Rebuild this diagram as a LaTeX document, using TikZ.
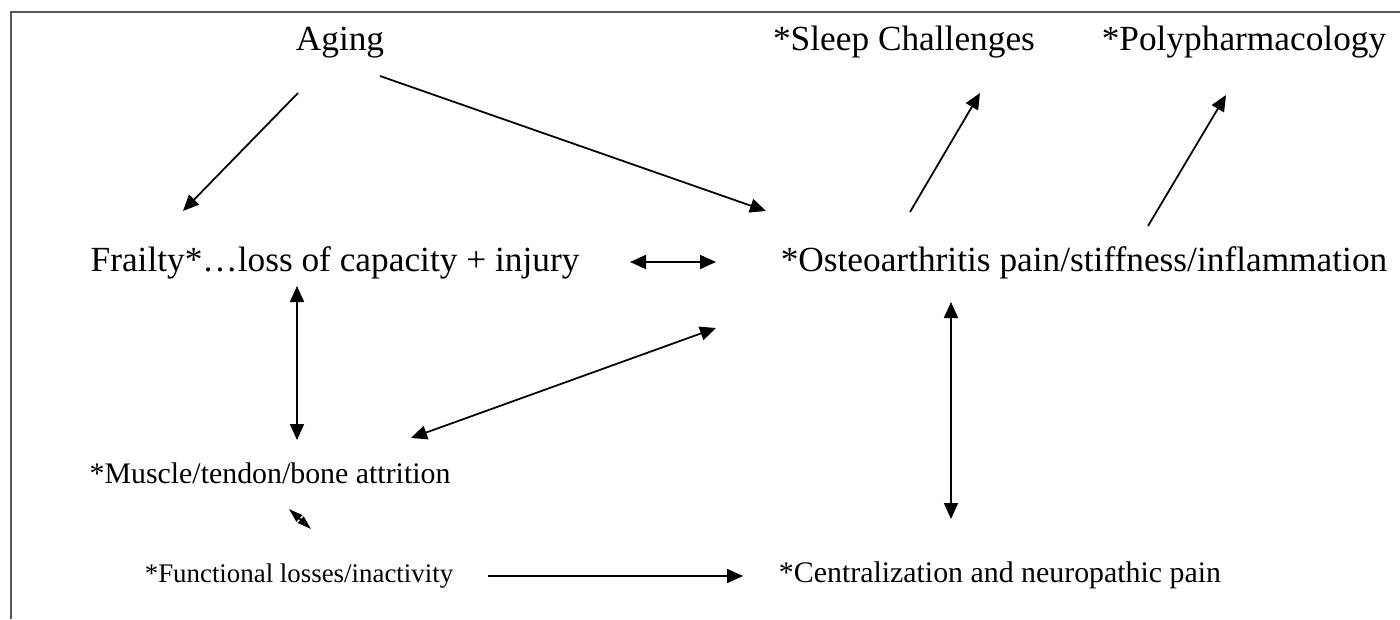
\documentclass[tikz,border=0pt]{standalone}
\usepackage{fontspec}
\setmainfont{Liberation Serif}
\usetikzlibrary{arrows.meta,positioning,calc}
\tikzset{
  big/.style={inner sep=0pt, anchor=base, font=\fontsize{20.1}{24}\selectfont},
  small/.style={inner sep=0pt, anchor=base, font=\fontsize{17}{20}\selectfont},
  arr/.style={-{Triangle[length=0.32cm,width=0.28cm]}, line width=1pt},
  darr/.style={{Triangle[length=0.32cm,width=0.28cm]}-{Triangle[length=0.32cm,width=0.28cm]},
               line width=1pt},
  tinyarr/.style={{Triangle[length=0.28cm,width=0.17cm]}-{Triangle[length=0.28cm,width=0.17cm]},
               line width=1pt},
  frame/.style={draw=black!65, line width=1.1pt}
}

\begin{document}
\begin{tikzpicture}[x=0.02cm, y=-0.02cm]
  \useasboundingbox (0,0) rectangle (1400,619);
  \draw[frame] (11,619) -- (11,12) -- (1400,12);

  % Top row
  \node[big] (aging) at (340,50)  {Aging};
  \node[big] (sleep) at (904,50)  {*Sleep Challenges};
  \node[big] (poly)  at (1244,50) {*Polypharmacology};

  % Middle row
  \node[big] (frailty) at (335,271)  {Frailty*…loss of capacity + injury};
  \node[big] (oa)      at (1084,271) {*Osteoarthritis pain/stiffness/inflammation};

  % Lower rows
  \node[small] (muscle)     at (270,483)  {*Muscle/tendon/bone attrition};
  \node[small, font=\fontsize{15.3}{18}\selectfont] (functional) at (299,582)
       {*Functional losses/inactivity};
  \node[small] (central)    at (1000,582) {*Centralization and neuropathic pain};

  % End points of the connectors
  \coordinate (agingA)  at (298,93);   \coordinate (frailtyT) at (183,211);
  \coordinate (agingB)  at (380,76);   \coordinate (oaT)      at (766,211);
  \coordinate (oaS)     at (910,212);  \coordinate (sleepB)   at (980,93);
  \coordinate (oaP)     at (1148,226); \coordinate (polyB)    at (1226,95);
  \coordinate (frailtyR) at (630,262); \coordinate (oaL)      at (716,262);
  \coordinate (frailtyB) at (297,286); \coordinate (muscleT)  at (297,440);
  \coordinate (oaM)     at (716,328);  \coordinate (muscleR)  at (411,438);
  \coordinate (oaB)     at (951,302);  \coordinate (centralT) at (951,519);
  \coordinate (functionalR) at (488,576); \coordinate (centralL) at (743,576);
  \coordinate (muscleB) at (289,509);  \coordinate (functionalT) at (311,529);

  \draw[arr]  (agingA) -- (frailtyT);
  \draw[arr]  (agingB) -- (oaT);
  \draw[arr]  (oaS) -- (sleepB);
  \draw[arr]  (oaP) -- (polyB);
  \draw[darr] (frailtyR) -- (oaL);
  \draw[darr] (frailtyB) -- (muscleT);
  \draw[darr] (oaM) -- (muscleR);
  \draw[darr] (oaB) -- (centralT);
  \draw[arr]  (functionalR) -- (centralL);
  \draw[tinyarr] (muscleB) -- (functionalT);
\end{tikzpicture}
\end{document}
